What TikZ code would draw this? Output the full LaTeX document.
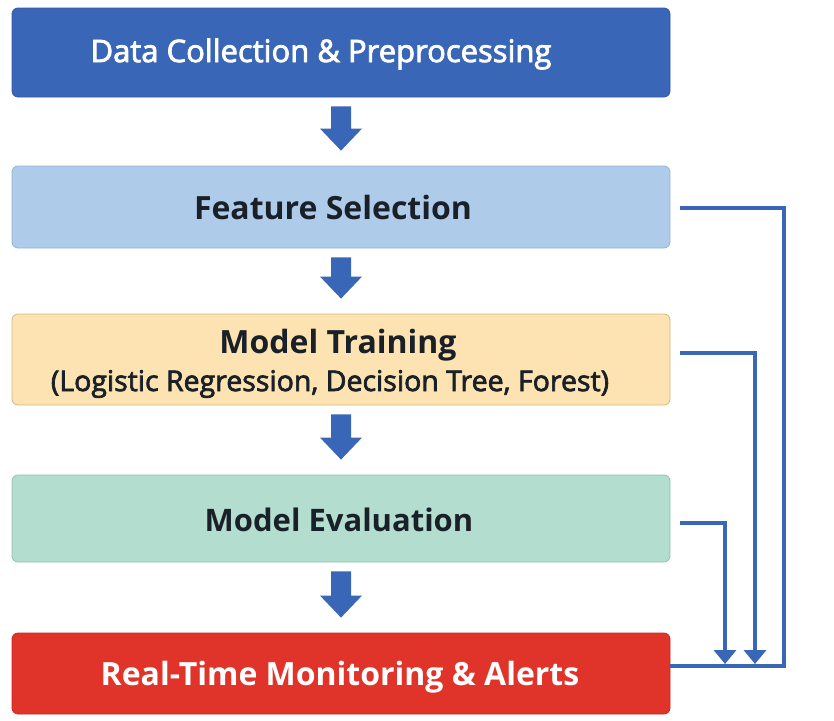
\documentclass[tikz,border=0pt]{standalone}
\usepackage{fontspec}
\setmainfont{Open Sans}
\newfontfamily\semifont[FakeBold=2.5]{Open Sans}
\usetikzlibrary{arrows.meta,calc}
\definecolor{cblue}{HTML}{3A66B7}
\definecolor{cblueb}{HTML}{3159A6}
\definecolor{clight}{HTML}{AFCBEA}
\definecolor{clightb}{HTML}{93B3DA}
\definecolor{cyel}{HTML}{FDE3B1}
\definecolor{cyelb}{HTML}{D6B77E}
\definecolor{cmint}{HTML}{B3DDCF}
\definecolor{cmintb}{HTML}{8EC2AF}
\definecolor{cred}{HTML}{E0332A}
\definecolor{credb}{HTML}{C92A22}
\definecolor{ctext}{HTML}{1A2028}
\definecolor{cline}{HTML}{3A66B7}
\tikzset{
  stagebox/.style={rounded corners=6pt, line width=0.8pt, minimum width=658pt, inner sep=0pt},
  flowarrow/.style={fill=cblue, draw=none},
  loopline/.style={draw=cline, line width=3.4pt},
  tip/.style={-{Triangle[width=22pt,length=14pt]}},
  titletext/.style={font=\fontsize{32}{38}\selectfont\bfseries},
}
\begin{document}
\begin{tikzpicture}[x=1pt,y=-1pt]
\useasboundingbox (0,0) rectangle (834,720);
% boxes
\node[stagebox, fill=cblue, draw=cblueb, minimum height=89pt] (b1) at (341,52.5) {};
\node[stagebox, fill=clight, draw=clightb, minimum height=82pt] (b2) at (341,207) {};
\node[stagebox, fill=cyel, draw=cyelb, minimum height=91pt] (b3) at (341,359.5) {};
\node[stagebox, fill=cmint, draw=cmintb, minimum height=87pt] (b4) at (341,518.5) {};
\node[stagebox, fill=cred, draw=credb, minimum height=81pt] (b5) at (341,673.5) {};
% texts
\node[text=white, font=\fontsize{31}{36}\semifont] (t1) at (321,54) {Data Collection \& Preprocessing};
\node[text=ctext, titletext] (t2) at (333,207) {Feature Selection};
\node[text=ctext, titletext] (t3) at (338,345) {Model Training};
\node[text=ctext, font=\fontsize{28.5}{33}\semifont] (t3b) at (330,384) {(Logistic Regression, Decision Tree, Forest)};
\node[text=ctext, font=\fontsize{31}{36}\selectfont\bfseries] (t4) at (339,520) {Model Evaluation};
\node[text=white, titletext] (t5) at (340,677) {Real-Time Monitoring \& Alerts};
% flow arrows
\foreach \a/\b in {b1/b2,b2/b3,b3/b4,b4/b5}{
  \path (\a.south) ++(0,9) coordinate (s) ;
  \path (\b.north) ++(0,-15) coordinate (e) ;
  \fill[flowarrow] ($(s)+(-10,0)$) -- ($(s)+(10,0)$) -- ($(e)+(10,-22)$) -- ($(e)+(21,-22)$) -- (e) -- ($(e)+(-21,-22)$) -- ($(e)+(-10,-22)$) -- cycle;
}
% feedback lines
\coordinate (c2a) at (784,208);
\coordinate (c3a) at (755,353);
\coordinate (c4a) at (725,523);
\coordinate (bus) at (784,666);
\coordinate (m3) at (755,664);
\coordinate (m4) at (725,664);
\draw[loopline, line join=miter] ([xshift=10pt]b2.east |- c2a) -- (c2a) -- (bus) -- (b5.east |- bus);
\draw[loopline, tip] ([xshift=10pt]b3.east |- c3a) -- (c3a) -- (m3);
\draw[loopline, tip] ([xshift=10pt]b4.east |- c4a) -- (c4a) -- (m4);
\end{tikzpicture}
\end{document}
